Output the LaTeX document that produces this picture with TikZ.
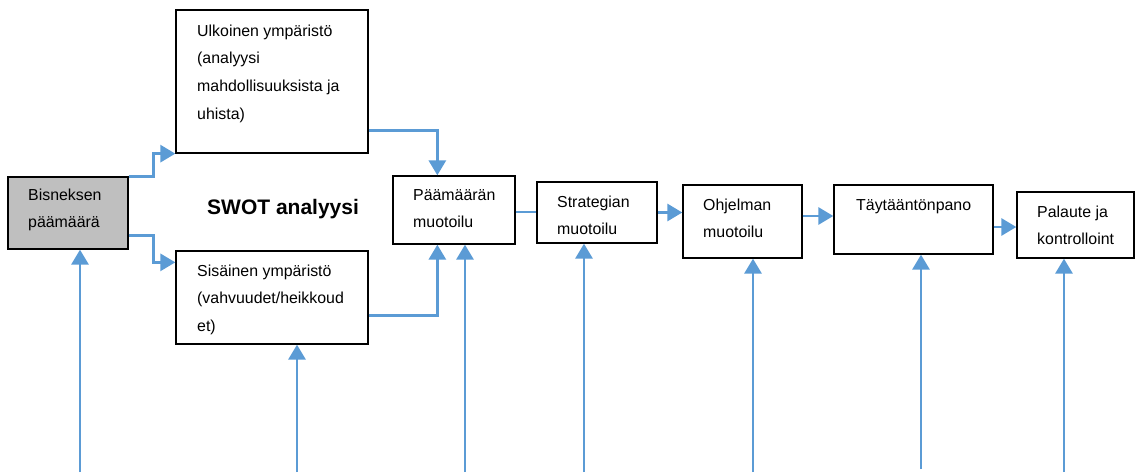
\documentclass[tikz,border=0pt]{standalone}
\usepackage{fontspec}
\setmainfont{Liberation Sans}
\usetikzlibrary{arrows.meta,calc}
\definecolor{conblue}{HTML}{5B9BD5}
\definecolor{boxgray}{HTML}{BFBFBF}
\begin{document}
\begin{tikzpicture}[x=1pt,y=-1pt,
  box/.style={draw=black,line width=1.3pt,fill=white,inner sep=0pt,rectangle},
  txt/.style={anchor=base west,inner sep=0pt,align=left,font=\fontsize{15.9}{27.7}\selectfont},
  con/.style={draw=conblue,line width=2.9pt},
  arr/.style={con,-{Triangle[length=15pt,width=17pt]}}]
\useasboundingbox (0,0) rectangle (1135,472);
% boxes
\node[box,fill=boxgray,minimum width=120pt,minimum height=72pt] (bis) at (68,213) {};
\node[box,minimum width=192pt,minimum height=143pt] (ulk) at (272,81.5) {};
\node[box,minimum width=192pt,minimum height=93pt] (sis) at (272,297.5) {};
\node[box,minimum width=122pt,minimum height=68pt] (paa) at (454,210) {};
\node[box,minimum width=120pt,minimum height=61pt] (str) at (597,212.5) {};
\node[box,minimum width=119pt,minimum height=73pt] (ohj) at (742.5,221.5) {};
\node[box,minimum width=159pt,minimum height=69pt] (tay) at (913.5,219.5) {};
\node[box,minimum width=117pt,minimum height=66pt] (pal) at (1075.5,225) {};
% texts (anchor at the baseline of the last line)
\node[txt] (tbis) at (28,227.7) {Bisneksen\\päämäärä};
\node[txt] (tulk) at (197,119.1) {Ulkoinen ympäristö\\(analyysi\\mahdollisuuksista ja\\uhista)};
\node[txt] (tsis) at (197,331.4) {Sisäinen ympäristö\\(vahvuudet/heikkoud\\et)};
\node[txt] (tpaa) at (413,227.7) {Päämäärän\\muotoilu};
\node[txt] (tstr) at (557,234.7) {Strategian\\muotoilu};
\node[txt] (tohj) at (703,237.7) {Ohjelman\\muotoilu};
\node[txt] (ttay) at (856,210) {Täytääntönpano};
\node[txt] (tpal) at (1037,244.7) {Palaute ja\\kontrolloint};
\node[anchor=base west,inner sep=0pt,font=\fontsize{21}{25}\selectfont\bfseries] (swot) at (207,214.5) {SWOT analyysi};
% connectors
\draw[arr] (bis.north east) -- ++(25,0) |- (ulk.south west);
\draw[arr] ($(bis.south east)+(0,-14)$) -- ++(25,0) |- ($(sis.north west)+(0,12)$);
\draw[arr] ($(ulk.south east)+(0,-23)$) -| ($(paa.north west)+(45,0)$);
\draw[arr] ($(sis.south east)+(0,-29)$) -| ($(paa.south west)+(45,0)$);
\draw[con] ($(paa.east)+(0,2)$) -- ($(str.west)+(0,-0.5)$);
\draw[arr] (str.east) -- (ohj.west |- str.east);
\draw[arr] ($(ohj.east)+(0,-5.5)$) -- ($(tay.west)+(0,-3.5)$);
\draw[arr] ($(tay.east)+(0,7.5)$) -- ($(pal.west)+(0,2)$);
% bottom feeds
\coordinate (f1) at (80,472);
\coordinate (f2) at (297,472);
\coordinate (f3) at (465,472);
\coordinate (f4) at (584,472);
\coordinate (f5) at (753,472);
\coordinate (f6) at (921,469);
\coordinate (f7) at (1064,472);
\draw[arr] (f1) -- (f1 |- bis.south);
\draw[arr] (f2) -- (f2 |- sis.south);
\draw[arr] (f3) -- (f3 |- paa.south);
\draw[arr] (f4) -- (f4 |- str.south);
\draw[arr] (f5) -- (f5 |- ohj.south);
\draw[arr] (f6) -- (f6 |- tay.south);
\draw[arr] (f7) -- (f7 |- pal.south);
\end{tikzpicture}
\end{document}
